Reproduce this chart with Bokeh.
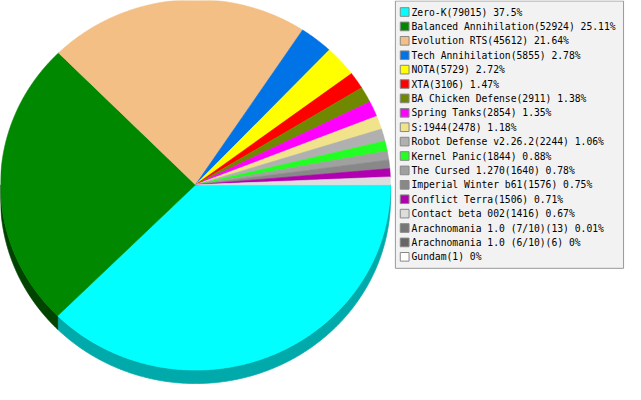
import numpy as np
from bokeh.plotting import figure
from bokeh.models import Range1d, ColumnDataSource
from bokeh.core.properties import value
from bokeh.embed import file_html
from bokeh.resources import INLINE

# ---- data ----
games = ["Zero-K", "Balanced Annihilation", "Evolution RTS", "Tech Annihilation",
         "NOTA", "XTA", "BA Chicken Defense", "Spring Tanks", "S:1944",
         "Robot Defense v2.26.2", "Kernel Panic", "The Cursed 1.270",
         "Imperial Winter b61", "Conflict Terra", "Contact beta 002",
         "Arachnomania 1.0 (7/10)", "Arachnomania 1.0 (6/10)", "Gundam"]
counts = [79015, 52924, 45612, 5855, 5729, 3106, 2911, 2854, 2478,
          2244, 1844, 1640, 1576, 1506, 1416, 13, 6, 1]
percents = ["37.5", "25.11", "21.64", "2.78", "2.72", "1.47", "1.38", "1.35", "1.18",
            "1.06", "0.88", "0.78", "0.75", "0.71", "0.67", "0.01", "0", "0"]
colors = ["#00FFFF", "#008800", "#F4BF84", "#0073E6", "#FFFF00", "#FF0000",
          "#6F8800", "#FF00FF", "#F0E38C", "#B0B0B0", "#22FF22", "#A0A0A0",
          "#888888", "#B000B0", "#DDDDDD", "#777777", "#666666", "#FFFFFF"]
side_colors = ["#00AAAA", "#004400", "#A37F58", "#004D99", "#AAAA00", "#AA0000",
               "#4A5A00", "#AA00AA", "#A0975D", "#757575", "#16AA16", "#6B6B6B",
               "#5B5B5B", "#750075", "#939393", "#4F4F4F", "#444444", "#AAAAAA"]

# ---- layout (reference pixel space) ----
CX, CY, RX, RY, DEPTH = 200.0, 192.0, 200.0, 193.0, 14.0

p = figure(width=625, height=384, x_range=Range1d(0, 641), y_range=Range1d(400, 0),
           output_backend="svg", toolbar_location=None, min_border=0,
           x_axis_location=None, y_axis_location=None)
p.grid.visible = False
p.outline_line_color = None
p.background_fill_color = "white"

cnt = np.array(counts, dtype=float)
frac = cnt / cnt.sum()
edges = np.concatenate([[0.0], np.cumsum(frac)]) * 2 * np.pi

# side (3D depth) for the front half
sx, sy, sc = [], [], []
for i in range(len(counts)):
    a, b = max(edges[i], 0.0), min(edges[i + 1], np.pi)
    if b <= a:
        continue
    t = np.linspace(a, b, max(2, int((b - a) / (2 * np.pi) * 1440) + 2))
    rx = CX + RX * np.cos(t)
    ry = CY + RY * np.sin(t)
    sx.append(list(rx) + list(rx[::-1]))
    sy.append(list(ry) + list((ry + DEPTH)[::-1]))
    sc.append(side_colors[i])
p.patches(xs=sx, ys=sy, fill_color=sc, line_color=sc, line_width=0.8)

# top face
tx, ty, la = [], [], []
for i in range(len(counts)):
    a, b = edges[i], edges[i + 1]
    t = np.linspace(a, b, max(2, int((b - a) / (2 * np.pi) * 1440) + 2))
    tx.append([CX] + list(CX + RX * np.cos(t)))
    ty.append([CY] + list(CY + RY * np.sin(t)))
    la.append(1.0 if frac[i] > 0.002 else 0.0)
src = ColumnDataSource(dict(xs=tx, ys=ty, c=colors, la=la))
p.patches(xs="xs", ys="ys", fill_color="c", line_color="c", line_alpha="la",
          line_width=0.6, source=src)

# legend box
p.quad(left=[405], right=[639], top=[0.5], bottom=[279], fill_color="#F2F2F2",
       line_color="#999999", line_width=1)
rows = 12 + 15 * np.arange(len(games))
p.quad(left=410, right=419, top=rows - 4.5, bottom=rows + 4.5, fill_color=colors,
       line_color="#888888", line_width=1)
labels = [f"{g}({c}) {pc}%" for g, c, pc in zip(games, counts, percents)]
p.text(x=421.5, y=rows, text=labels, text_font=value("DejaVu Sans Mono"),
       text_font_size="9.7px", text_baseline="middle", text_align="left",
       text_color="#000000")

open("out.html", "w").write(file_html(p, INLINE))
